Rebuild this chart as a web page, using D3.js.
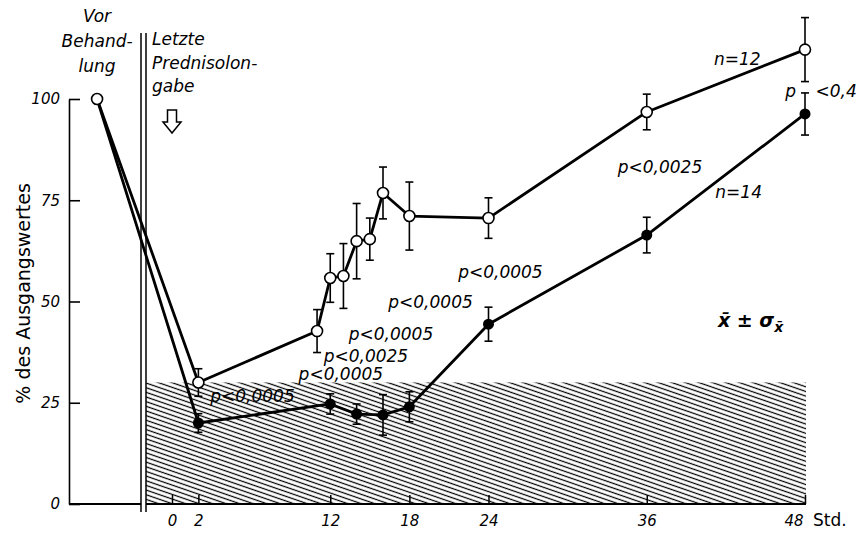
<!DOCTYPE html>
<html><head><meta charset="utf-8">
<script src="https://cdn.jsdelivr.net/npm/d3@7"></script>
<style>
body{margin:0;background:#fff;}
svg text{font-family:"DejaVu Sans",sans-serif;fill:#000;}
</style></head><body><svg id="c" width="857" height="533"></svg>
<script>
// ---- data ----
const preLabel = "Vor Behandlung";
const preValue = 100;
const hoursOpen   = [2, 11, 12, 13, 14, 15, 16, 18, 24, 36, 48];
const valuesOpen  = [30, 42.7, 55.8, 56.3, 64.9, 65.4, 76.8, 71.1, 70.6, 96.8, 112.2];
const errOpen     = [3.4, 5.3, 6, 8, 9.3, 5.2, 6.4, 8.4, 5, 4.4, 7.9];
const hoursFilled  = [2, 12, 14, 16, 18, 24, 36, 48];
const valuesFilled = [20, 24.7, 22.2, 22, 24, 44.4, 66.4, 96.3];
const errFilled    = [2.3, 2.5, 2.5, 5, 3.7, 4.2, 4.4, 5.2];
const xTicks = [0, 2, 12, 18, 24, 36, 48];
const yTicks = [0, 25, 50, 75, 100];
const hatchLimit = 30;
// annotation texts anchored in data units (hour, value)
const pTexts  = ["p<0,0005","p<0,0005","p<0,0025","p<0,0005","p<0,0005","p<0,0005","p<0,0025","p","<0,4"];
const pHours  = [2.9, 9.6, 11.5, 13.4, 16.4, 21.7, 33.8, 46.5, 48.8];
const pValues = [25.2, 30.6, 35.1, 40.5, 48.4, 55.8, 81.7, 100.5, 100.5];
const nTexts  = ["n=12","n=14"];
const nHours  = [41.1, 41.2];
const nValues = [108.4, 75.6];

// ---- layout ----
const svg = d3.select("#c");
const x = d3.scaleLinear().domain([0, 48]).range([172, 805]);
const y = d3.scaleLinear().domain([0, 100]).range([504, 99]);
const xPre = d3.scaleLinear().domain([0, 1]).range([69, 141]);
const prePos = 0.39;
const breakX1 = 141, breakX2 = 146;

// hatch pattern
const defs = svg.append("defs");
const pat = defs.append("pattern").attr("id","hatch").attr("patternUnits","userSpaceOnUse")
  .attr("width", 12).attr("height", 4.4).attr("patternTransform","rotate(19)");
pat.append("line").attr("x1",0).attr("x2",12).attr("y1",2.2).attr("y2",2.2)
  .attr("stroke","#000").attr("stroke-width",1.25);

svg.append("rect").attr("x", breakX2).attr("y", y(hatchLimit))
  .attr("width", x(48) + 1 - breakX2).attr("height", y(0) - y(hatchLimit))
  .attr("fill","url(#hatch)");

// y axis
const yAxis = d3.axisLeft(y).tickValues(yTicks).tickSizeInner(-11).tickSizeOuter(0).tickPadding(9);
const gy = svg.append("g").attr("transform", `translate(${xPre(0)},0)`).call(yAxis);
gy.selectAll("path,line").attr("stroke","#000").attr("stroke-width",1.6);
gy.selectAll("text").attr("font-size",15).attr("font-style","italic").attr("font-family","DejaVu Sans");

// left baseline
svg.append("line").attr("x1", xPre(0)).attr("x2", breakX1).attr("y1", y(0)).attr("y2", y(0))
  .attr("stroke","#000").attr("stroke-width",1.8);

// break lines
[breakX1, breakX2].forEach(bx => svg.append("line").attr("x1",bx).attr("x2",bx)
  .attr("y1",33).attr("y2",512).attr("stroke","#000").attr("stroke-width",1.5));

// x axis
const xAxis = d3.axisBottom(x).tickValues(xTicks).tickSizeInner(-9).tickSizeOuter(0).tickPadding(11);
const gx = svg.append("g").attr("transform", `translate(0,${y(0)})`).call(xAxis);
gx.select(".domain").remove();
gx.selectAll("line").attr("stroke","#000").attr("stroke-width",1.5);
gx.selectAll("text").attr("font-size",15).attr("font-style","italic").attr("font-family","DejaVu Sans");
gx.selectAll(".tick").filter(d => d === 48).select("text").attr("text-anchor","end").attr("x",-2);
svg.append("line").attr("x1", breakX2).attr("x2", x(48) + 1).attr("y1", y(0)).attr("y2", y(0))
  .attr("stroke","#000").attr("stroke-width",2);
svg.append("text").attr("x", x(48) + 8).attr("y", y(0) + 22).attr("font-size",17).text("Std.");

// y label
svg.append("text").attr("transform", `translate(30,${y(52)}) rotate(-90)`)
  .attr("text-anchor","middle").attr("font-size",19).text("% des Ausgangswertes");

// series
const openPts = [{pre:true, v:preValue}].concat(hoursOpen.map((h,i)=>({h, v:valuesOpen[i], e:errOpen[i]})));
const filledPts = [{pre:true, v:preValue}].concat(hoursFilled.map((h,i)=>({h, v:valuesFilled[i], e:errFilled[i]})));
const px = d => d.pre ? xPre(prePos) : x(d.h);
const line = d3.line().x(px).y(d => y(d.v));

[openPts, filledPts].forEach(pts => svg.append("path").attr("d", line(pts))
  .attr("fill","none").attr("stroke","#000").attr("stroke-width",2.8).attr("stroke-linejoin","round"));

function errorBars(pts){
  const g = svg.append("g").attr("stroke","#000").attr("stroke-width",1.6);
  pts.filter(d => !d.pre).forEach(d => {
    const cx = px(d), t = y(d.v + d.e), b = y(d.v - d.e);
    g.append("line").attr("x1",cx).attr("x2",cx).attr("y1",t).attr("y2",b);
    g.append("line").attr("x1",cx-4).attr("x2",cx+4).attr("y1",t).attr("y2",t);
    g.append("line").attr("x1",cx-4).attr("x2",cx+4).attr("y1",b).attr("y2",b);
  });
}
errorBars(openPts); errorBars(filledPts);

svg.append("g").selectAll("circle").data(filledPts.slice(1)).join("circle")
  .attr("cx", px).attr("cy", d => y(d.v)).attr("r", 5.5).attr("fill","#000");
svg.append("g").selectAll("circle").data(openPts).join("circle")
  .attr("cx", px).attr("cy", d => y(d.v)).attr("r", 5.5)
  .attr("fill","#fff").attr("stroke","#000").attr("stroke-width",1.6);

// annotations
const it = (tx, ax, ay, size=17, anchor="start") => svg.append("text").attr("x",ax).attr("y",ay)
  .attr("font-size",size).attr("font-style","italic").attr("text-anchor",anchor).text(tx);
pTexts.forEach((t,i) => it(t, x(pHours[i]), y(pValues[i])));
nTexts.forEach((t,i) => it(t, x(nHours[i]), y(nValues[i])));

const preWords = ["Vor","Behand-","lung"];
preWords.forEach((w,i) => it(w, xPre(prePos), 22 + i*25, 17, "middle"));
const postWords = ["Letzte","Prednisolon-","gabe"];
postWords.forEach((w,i) => it(w, 152, 45 + i*23.5, 17));

// arrow at last dose (hour 0)
const ax0 = x(0);
svg.append("path").attr("d", `M${ax0-4.5},110 L${ax0+4.5},110 L${ax0+4.5},122 L${ax0+9},122 L${ax0},133 L${ax0-9},122 L${ax0-4.5},122 Z`)
  .attr("fill","#fff").attr("stroke","#000").attr("stroke-width",1.5);

// mean ± SEM legend
const lg = svg.append("text").attr("x", x(41.4)).attr("y", y(43.7)).attr("font-size",19)
  .attr("font-style","italic").attr("font-weight","bold");
lg.append("tspan").text("x\u0304 \u00b1 \u03c3");
lg.append("tspan").attr("font-size",14).attr("dy",5).text("x\u0304");
</script></body></html>
